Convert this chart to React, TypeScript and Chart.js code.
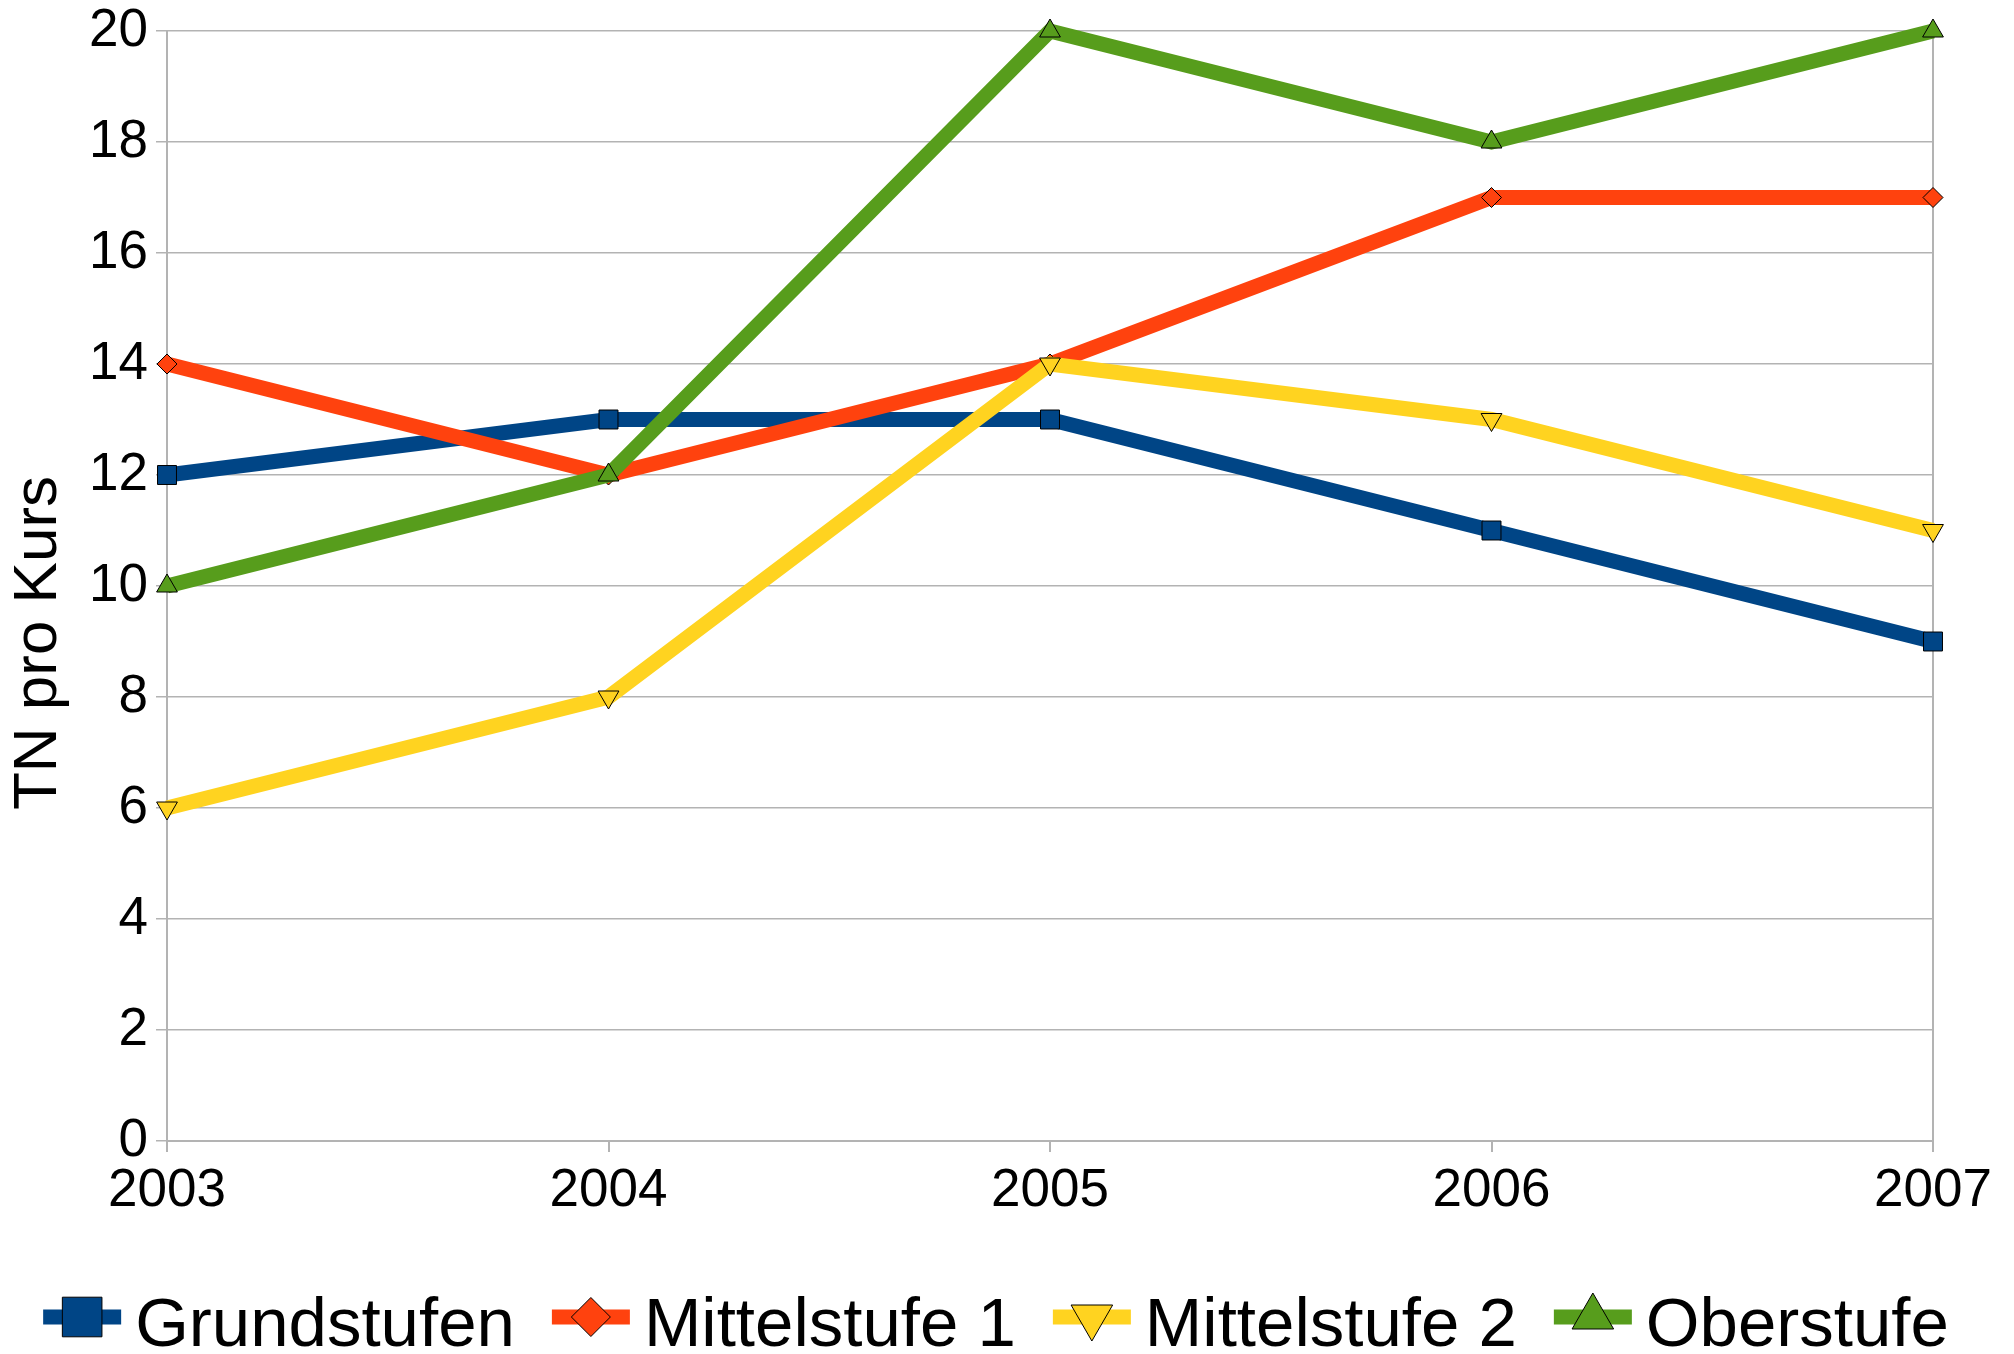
import React, { useEffect, useRef } from "react";
import { Chart, registerables } from "chart.js";
import { drawPoint } from "chart.js/helpers";

Chart.register(...registerables);

const years = ["2003", "2004", "2005", "2006", "2007"];
const grundstufen = [12, 13, 13, 11, 9];
const mittelstufe1 = [14, 12, 14, 17, 17];
const mittelstufe2 = [6, 8, 14, 13, 11];
const oberstufe = [10, 12, 20, 18, 20];
const seriesNames = ["Grundstufen", "Mittelstufe 1", "Mittelstufe 2", "Oberstufe"];
const seriesValues = [grundstufen, mittelstufe1, mittelstufe2, oberstufe];
const seriesColors = ["#004586", "#ff420e", "#ffd320", "#579d1c"];
const pointStyles = ["rect", "rectRot", "triangle", "triangle"];
const pointRotations = [0, 0, 180, 0];
const pointRadii = [13.4, 10, 12, 12];
const legendRadii = [28, 19.5, 24, 24];
const yTitle = "TN pro Kurs";

const FONT = "'Liberation Sans', Arial, sans-serif";
const GRID = "#b3b3b3";

const legendPlugin = {
  id: "customLegend",
  afterDraw(chart: any) {
    const ctx = chart.ctx as CanvasRenderingContext2D;
    ctx.save();
    // y-axis title
    ctx.font = `62px ${FONT}`;
    ctx.fillStyle = "#000000";
    ctx.translate(39, 643);
    ctx.rotate(-Math.PI / 2);
    ctx.textAlign = "center";
    ctx.textBaseline = "middle";
    ctx.fillText(yTitle, 0, 0);
    ctx.setTransform(1, 0, 0, 1, 0, 0);

    // legend
    ctx.font = `69px ${FONT}`;
    const lineLen = 78;
    const gapText = 14;
    const gapItem = 37;
    const widths = seriesNames.map((n) => ctx.measureText(n).width);
    const total =
      widths.reduce((a, w) => a + lineLen + gapText + w, 0) + gapItem * (seriesNames.length - 1);
    let x = 996 - total / 2;
    const y = 1317;
    seriesNames.forEach((name, i) => {
      ctx.strokeStyle = seriesColors[i];
      ctx.lineWidth = 15;
      ctx.lineCap = "butt";
      ctx.beginPath();
      ctx.moveTo(x, y);
      ctx.lineTo(x + lineLen, y);
      ctx.stroke();
      ctx.fillStyle = seriesColors[i];
      ctx.strokeStyle = "#000000";
      ctx.lineWidth = 1;
      drawPoint(
        ctx,
        { pointStyle: pointStyles[i], rotation: pointRotations[i], radius: legendRadii[i], borderWidth: 1 } as any,
        x + lineLen / 2,
        y
      );
      ctx.fillStyle = "#000000";
      ctx.textBaseline = "alphabetic";
      ctx.textAlign = "left";
      ctx.fillText(name, x + lineLen + gapText, 1346);
      x += lineLen + gapText + widths[i] + gapItem;
    });
    ctx.restore();
  },
};

export default function App() {
  const ref = useRef<HTMLCanvasElement | null>(null);
  useEffect(() => {
    if (!ref.current) return;
    Chart.defaults.font.family = FONT;
    Chart.defaults.color = "#000000";
    const chart = new Chart(ref.current, {
      type: "line",
      data: {
        labels: years,
        datasets: seriesNames.map((name, i) => ({
          label: name,
          data: seriesValues[i],
          borderColor: seriesColors[i],
          backgroundColor: seriesColors[i],
          borderWidth: 15,
          pointStyle: pointStyles[i] as any,
          rotation: pointRotations[i],
          pointRadius: pointRadii[i],
          pointBorderColor: "#000000",
          pointBorderWidth: 1,
          pointBackgroundColor: seriesColors[i],
          tension: 0,
          fill: false,
          clip: false as any,
          order: seriesNames.length - 1 - i,
        })),
      },
      options: {
        responsive: false,
        animation: false,
        layout: { padding: { left: 0, right: 81, top: 31, bottom: 0 } },
        plugins: {
          legend: { display: false },
          tooltip: { enabled: false },
        },
        scales: {
          x: {
            type: "category",
            offset: false,
            grid: {
              display: true,
              drawOnChartArea: true,
              color: (c: any) => (c.index === years.length - 1 ? GRID : "rgba(0,0,0,0)"),
              tickColor: GRID,
              tickLength: 11,
              lineWidth: 2,
            },
            border: { display: true, color: GRID, width: 2 },
            ticks: { font: { size: 53 }, padding: 8, maxRotation: 0, autoSkip: false },
            afterFit: (s: any) => {
              s.height = 213;
              s.paddingLeft = 0;
              s.paddingRight = 0;
            },
          },
          y: {
            min: 0,
            max: 20,
            ticks: { stepSize: 2, font: { size: 53 }, padding: 8 },
            grid: { color: GRID, tickColor: GRID, tickLength: 11, lineWidth: 1.5 },
            border: { display: true, color: GRID, width: 2 },
            title: { display: false },
            afterFit: (s: any) => {
              s.width = 167;
              s.paddingTop = 0;
              s.paddingBottom = 0;
            },
          },
        },
      },
      plugins: [legendPlugin],
    });
    return () => chart.destroy();
  }, []);
  return (
    <div style={{ position: "absolute", left: 0, top: 0, width: 2014, height: 1354, background: "#fff" }}>
      <canvas ref={ref} width={2014} height={1354} style={{ display: "block" }} />
    </div>
  );
}
